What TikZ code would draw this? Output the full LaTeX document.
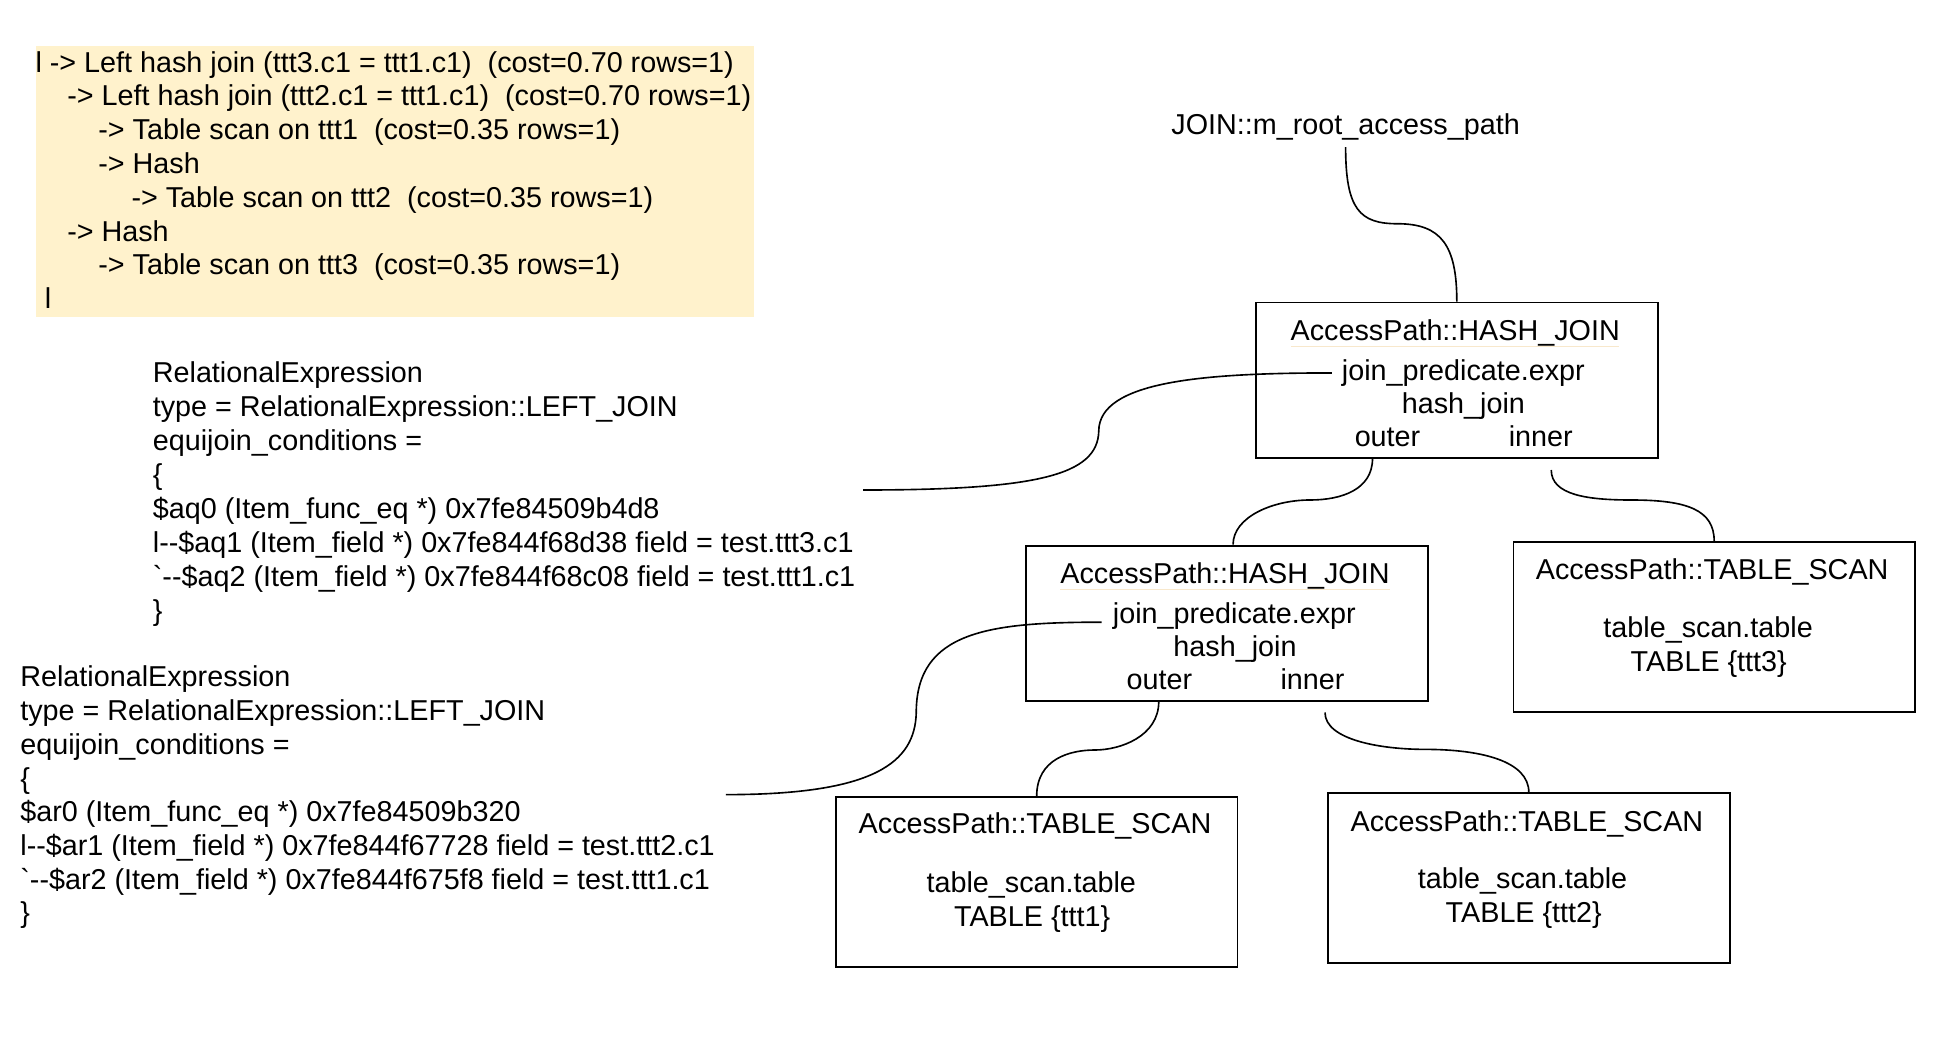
\documentclass[tikz,border=0pt]{standalone}
\usepackage{fontspec}
\setmainfont{Liberation Sans}[Ligatures=TeXOff]
\definecolor{noteyellow}{HTML}{FFF2CC}
\definecolor{faintline}{HTML}{F8E8CC}
\begin{document}
\begin{tikzpicture}[x=1pt,y=-1pt,
  every node/.style={font=\fontsize{23}{27}\selectfont},
  lt/.style={inner sep=0pt,outer sep=0pt,anchor=base west},
  ct/.style={inner sep=0pt,outer sep=0pt,anchor=base},
  hjbox/.style={draw=black,line width=1.5pt,inner sep=0pt,anchor=north west,minimum width=321.4pt,minimum height=124pt},
  tsbox/.style={draw=black,line width=1.5pt,inner sep=0pt,anchor=north west,minimum width=321.2pt,minimum height=135.8pt},
  conn/.style={line width=1.3pt,black},
  faint/.style={line width=1pt,faintline}]
\useasboundingbox (0,0) rectangle (1563.2,836.8);
\fill[white] (0,0) rectangle (1563.2,836.8);

% plan note
\fill[noteyellow] (28.9,36.8) rectangle (603.1,253.9);
\node[lt] (y1) at (28.4,57.8) {l -> Left hash join (ttt3.c1 = ttt1.c1)\ \ (cost=0.70 rows=1)};
\node[lt] (y2) at (53.8,84.8) {-> Left hash join (ttt2.c1 = ttt1.c1)\ \ (cost=0.70 rows=1)};
\node[lt] (y3) at (78.7,111.9) {-> Table scan on ttt1\ \ (cost=0.35 rows=1)};
\node[lt] (y4) at (78.7,138.9) {-> Hash};
\node[lt] (y5) at (105.2,166) {-> Table scan on ttt2\ \ (cost=0.35 rows=1)};
\node[lt] (y6) at (53.8,193) {-> Hash};
\node[lt] (y7) at (78.7,220) {-> Table scan on ttt3\ \ (cost=0.35 rows=1)};
\node[lt] (y8) at (35.9,247.1) {l};

% relational expression 1
\node[lt] (ra1) at (122.3,306) {RelationalExpression};
\node[lt] (ra2) at (122.3,333.2) {type = RelationalExpression::LEFT\_JOIN};
\node[lt] (ra3) at (122.3,360.4) {equijoin\_conditions =};
\node[lt] (ra4) at (122.3,387.6) {\{};
\node[lt] (ra5) at (122.3,414.8) {\$aq0 (Item\_func\_eq *) 0x7fe84509b4d8};
\node[lt] (ra6) at (122.3,442) {l--\$aq1 (Item\_field *) 0x7fe844f68d38 field = test.ttt3.c1};
\node[lt] (ra7) at (122.3,469.2) {`--\$aq2 (Item\_field *) 0x7fe844f68c08 field = test.ttt1.c1};
\node[lt] (ra8) at (122.3,496.4) {\}};

% relational expression 2
\node[lt] (rb1) at (16.3,549.5) {RelationalExpression};
\node[lt] (rb2) at (16.3,576.5) {type = RelationalExpression::LEFT\_JOIN};
\node[lt] (rb3) at (16.3,603.4) {equijoin\_conditions =};
\node[lt] (rb4) at (16.3,630.4) {\{};
\node[lt] (rb5) at (16.3,657.4) {\$ar0 (Item\_func\_eq *) 0x7fe84509b320};
\node[lt] (rb6) at (16.3,684.4) {l--\$ar1 (Item\_field *) 0x7fe844f67728 field = test.ttt2.c1};
\node[lt] (rb7) at (16.3,711.3) {`--\$ar2 (Item\_field *) 0x7fe844f675f8 field = test.ttt1.c1};
\node[lt] (rb8) at (16.3,738.3) {\}};

% root
\node[ct] (root) at (1076.5,108) {JOIN::m\_root\_access\_path};

% hash join 1
\node[hjbox] (hj1) at (1004,241.3) {};
\node[ct] (hj1h) at (1164.2,272.3) {AccessPath::HASH\_JOIN};
\draw[faint] (1032.8,277.3) -- (1295,277.3);
\node[ct] (hj1p) at (1170.7,304.3) {join\_predicate.expr};
\node[ct] (hj1j) at (1170.7,330.8) {hash\_join};
\node[ct] (hj1o) at (1110,357.3) {outer};
\node[ct] (hj1i) at (1232.6,357.3) {inner};

% hash join 2
\node[hjbox] (hj2) at (820,435.7) {};
\node[ct] (hj2h) at (980,466.7) {AccessPath::HASH\_JOIN};
\draw[faint] (848,471.7) -- (1111.6,471.7);
\node[ct] (hj2p) at (987.5,498.7) {join\_predicate.expr};
\node[ct] (hj2j) at (988,525.2) {hash\_join};
\node[ct] (hj2o) at (927.5,551.7) {outer};
\node[ct] (hj2i) at (1050,551.7) {inner};

% table scan ttt3
\node[tsbox] (ts3) at (1210,433) {};
\node[ct] (ts3h) at (1369.7,463.7) {AccessPath::TABLE\_SCAN};
\node[ct] (ts3t) at (1366.5,510) {table\_scan.table};
\node[ct] (ts3n) at (1367,537) {TABLE \{ttt3\}};

% table scan ttt1
\node[tsbox] (ts1) at (668,637) {};
\node[ct] (ts1h) at (828,667) {AccessPath::TABLE\_SCAN};
\node[ct] (ts1t) at (825,714) {table\_scan.table};
\node[ct] (ts1n) at (825.7,741) {TABLE \{ttt1\}};

% table scan ttt2
\node[tsbox] (ts2) at (1061.7,633.9) {};
\node[ct] (ts2h) at (1221.5,665) {AccessPath::TABLE\_SCAN};
\node[ct] (ts2t) at (1218,711) {table\_scan.table};
\node[ct] (ts2n) at (1219,738) {TABLE \{ttt2\}};

% bend points and free ends
\coordinate (m1) at (1118,179);
\coordinate (m2) at (879,345);
\coordinate (re1end) at (690.4,392);
\coordinate (m3) at (1048,400);
\coordinate (c4s) at (1241,376);
\coordinate (m4) at (1305,400);
\coordinate (m5) at (733,570);
\coordinate (re2end) at (580.7,635.7);
\coordinate (m6) at (876,600);
\coordinate (c7s) at (1060,570);
\coordinate (m7) at (1140,599.5);

% connectors
\draw[conn] ([yshift=-5pt]root.south) .. controls +(0,50) and +(-30,0) .. (m1) .. controls +(35,0) and +(0,-45) .. (hj1.north);
\draw[conn] ([xshift=-8pt]hj1p.west) .. controls +(-103,0) and +(0,-40) .. (m2) .. controls +(-1,35) and +(140,0) .. (re1end);
\draw[conn] ([xshift=94pt]hj1.south west) .. controls +(0,25) and +(25,0) .. (m3) .. controls +(-30,0) and +(0,-22) .. ([xshift=5pt]hj2.north);
\draw[conn] (c4s) .. controls +(0,20) and +(-35,0) .. (m4) .. controls +(45,0) and +(0,-25) .. (ts3.north);
\draw[conn] ([xshift=-9pt,yshift=-5pt]hj2p.west) .. controls +(-90,0) and +(0,-65) .. (m5) .. controls +(-1,40) and +(119,0) .. (re2end);
\draw[conn] ([xshift=107pt]hj2.south west) .. controls +(0,28) and +(20,0) .. (m6) .. controls +(-20,0) and +(0,-30) .. (ts1.north);
\draw[conn] (c7s) .. controls +(0,22) and +(-35,0) .. (m7) .. controls +(45,0) and +(0,-25) .. (ts2.north);
\end{tikzpicture}
\end{document}
